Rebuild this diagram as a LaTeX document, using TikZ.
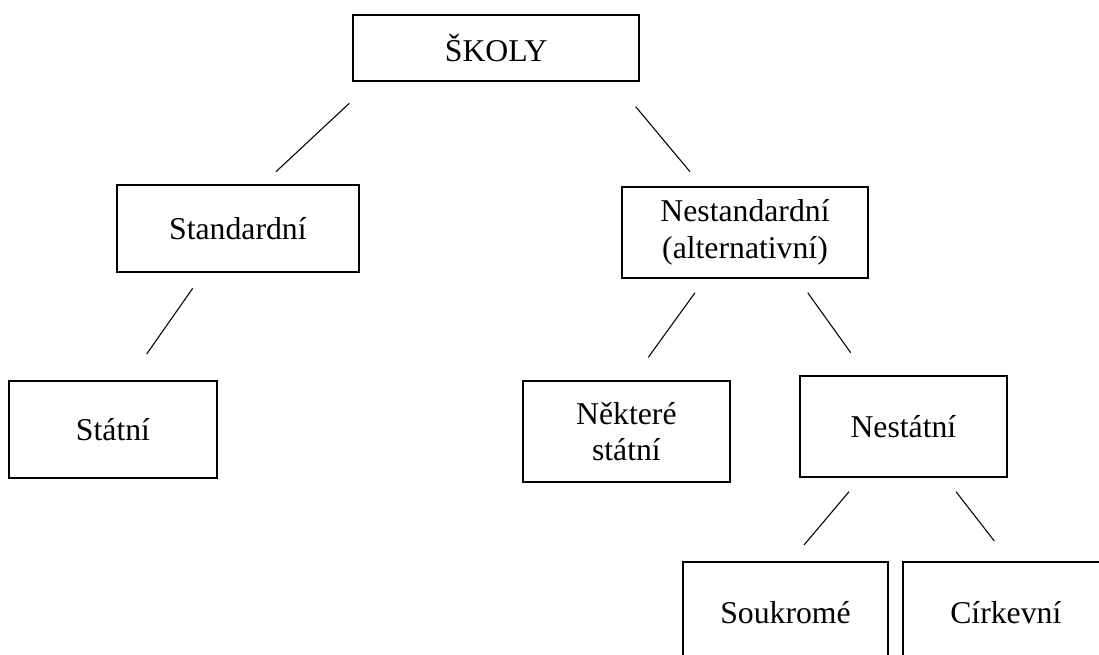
\documentclass[tikz,border=0pt]{standalone}
\usepackage{fontspec}
\setmainfont{Liberation Serif}
\begin{document}
\begin{tikzpicture}[x=0.75pt,y=-0.75pt,
  box/.style={draw=black,line width=1.5pt,inner sep=0pt,align=center,
    font=\fontsize{23.8pt}{27.5pt}\selectfont},
  link/.style={draw=black,line width=0.8pt}]
\clip (0,0) rectangle (1099,654);
\fill[white] (0,0) rectangle (1099,654);
\node[box,minimum width=214.3pt,minimum height=49.5pt] (skoly) at (496.2,48) {ŠKOLY};
\node[box,minimum width=181.7pt,minimum height=65.5pt] (std) at (237.9,228.7) {Standardní};
\node[box,minimum width=185pt,minimum height=68.3pt] (nestd) at (745,232.2) {Nestandardní\\(alternativní)};
\node[box,minimum width=155.6pt,minimum height=73.2pt] (statni) at (113,429.5) {Státní};
\node[box,minimum width=155.5pt,minimum height=76.2pt] (nekt) at (626.4,431.5) {Některé\\státní};
\node[box,minimum width=155pt,minimum height=75.8pt] (nestatni) at (903.4,426.2) {Nestátní};
\node[box,minimum width=154.2pt,minimum height=76.5pt] (soukr) at (785.5,612.7) {Soukromé};
\node[box,minimum width=153.8pt,minimum height=76.5pt] (cirk) at (1005.8,612.7) {Církevní};
\coordinate (a1) at (349.3,103.3); \coordinate (a2) at (276,171.7);
\coordinate (b1) at (635.7,106.7); \coordinate (b2) at (690,171.7);
\coordinate (c1) at (192.7,288.3); \coordinate (c2) at (146.7,354);
\coordinate (d1) at (695,292.7);   \coordinate (d2) at (648.3,357.3);
\coordinate (e1) at (807.7,292.7); \coordinate (e2) at (850.7,352.7);
\coordinate (f1) at (849,491.7);   \coordinate (f2) at (804,545);
\coordinate (g1) at (956,491.7);   \coordinate (g2) at (994.3,541);
\draw[link] (a1) -- (a2);
\draw[link] (b1) -- (b2);
\draw[link] (c1) -- (c2);
\draw[link] (d1) -- (d2);
\draw[link] (e1) -- (e2);
\draw[link] (f1) -- (f2);
\draw[link] (g1) -- (g2);
\end{tikzpicture}
\end{document}
